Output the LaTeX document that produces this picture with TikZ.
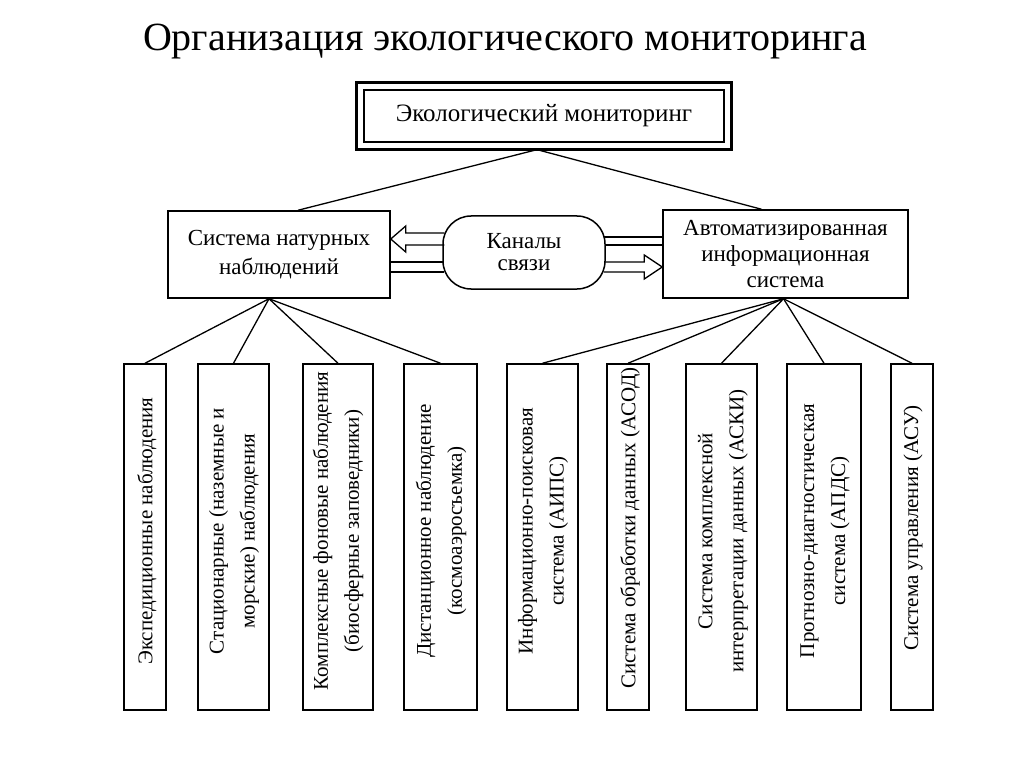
\documentclass[tikz,border=0pt]{standalone}
\usepackage{fontspec}
\setmainfont{Liberation Serif}
\usetikzlibrary{calc}
\begin{document}
\begin{tikzpicture}[x=1pt,y=-1pt,
  box/.style={draw, line width=1.5pt, inner sep=0pt},
  vbox/.style={box, minimum width=#1, minimum height=346pt},
  conn/.style={line width=1.3pt},
  hollow/.style={line width=1.3pt, line join=miter},
  txt/.style={font=\fontsize{23}{29}\selectfont, align=center, inner sep=0pt},
  vtxt/.style={font=\fontsize{21}{31}\selectfont, align=center, inner sep=0pt, rotate=90}]
\useasboundingbox (0,0) rectangle (1024,767);
\fill[white] (0,0) rectangle (1024,767);

\node[font=\fontsize{40}{48}\selectfont, anchor=base, inner sep=0pt] (title) at (505,51) {Организация экологического мониторинга};

% top box
\node[box, line width=1.3pt, minimum width=360pt, minimum height=52pt,
      font=\fontsize{25}{30}\selectfont] (eco) at (544,116) {Экологический мониторинг};
\draw[line width=3pt] ($(eco.north west)+(-7,-7)$) rectangle ($(eco.south east)+(7,7)$);

% middle row
\node[box, txt, minimum width=222pt, minimum height=87pt] (sn) at (279,254.5) {Система натурных\\наблюдений};
\node[box, txt, font=\fontsize{23}{22}\selectfont, rounded corners=28pt, minimum width=162pt, minimum height=73pt] (kan) at (524,252.5) {Каналы\\связи};
\node[box, txt, font=\fontsize{23}{26}\selectfont, minimum width=245pt, minimum height=88pt] (ais) at (785.5,254) {Автоматизированная\\информационная\\система};

% vertical boxes
\node[vbox=42pt] (b1) at (145,537) {};
\node[vbox=71pt] (b2) at (233.5,537) {};
\node[vbox=70pt] (b3) at (338,537) {};
\node[vbox=73pt] (b4) at (440.5,537) {};
\node[vbox=71pt] (b5) at (542.5,537) {};
\node[vbox=42pt] (b6) at (628,537) {};
\node[vbox=71pt] (b7) at (721.5,537) {};
\node[vbox=74pt] (b8) at (824,537) {};
\node[vbox=42pt] (b9) at (912,537) {};

\node[vtxt] (t1) at (147,531) {Экспедиционные наблюдения};
\node[vtxt] (t2) at (234,531) {Стационарные (наземные и\\морские) наблюдения};
\node[vtxt] (t3) at (338,531) {Комплексные фоновые наблюдения\\(биосферные заповедники)};
\node[vtxt] (t4) at (441,531) {Дистанционное наблюдение\\(космоаэросъемка)};
\node[vtxt] (t5) at (543,531) {Информационно-поисковая\\система (АИПС)};
\node[vtxt] (t6) at (630,528) {Система обработки данных (АСОД)};
\node[vtxt] (t7) at (723,531) {Система комплексной\\интерпретации данных (АСКИ)};
\node[vtxt] (t8) at (825,531) {Прогнозно-диагностическая\\система (АПДС)};
\node[vtxt] (t9) at (913,528) {Система управления (АСУ)};

% connectors from top
\coordinate (ecoB) at ($(eco.south)+(-7,7)$);
\draw[conn] (ecoB) -- ($(sn.north)+(19,0)$);
\draw[conn] (ecoB) -- ($(ais.north)+(-24,0)$);

\coordinate (snB) at ($(sn.south)+(-10,0)$);
\foreach \b in {b1,b2,b3,b4} \draw[conn] (snB) -- (\b.north);
\coordinate (aisB) at ($(ais.south)+(-2,0)$);
\foreach \b in {b5,b6,b7,b8,b9} \draw[conn] (aisB) -- (\b.north);

% hollow arrows
\coordinate (ya) at (0,239);
\coordinate (yb) at (0,267);
\coordinate (yc) at (0,241);
\coordinate (la) at (sn.east|-ya);
\coordinate (lk) at (kan.west|-ya);
\draw[hollow] ($(lk)+(2,-6)$) -- ($(la)+(15,-6)$) -- ($(la)+(15,-13)$) -- (la)
   -- ($(la)+(15,13)$) -- ($(la)+(15,6)$) -- ($(lk)+(2,6)$);
\coordinate (lb) at (sn.east|-yb);
\coordinate (lbk) at (kan.west|-yb);
\draw[hollow] ($(lb)+(0,-5)$) -- ($(lbk)+(1,-5)$);
\draw[hollow] ($(lb)+(0,5)$) -- ($(lbk)+(2,5)$);
\coordinate (rc) at (ais.west|-yc);
\coordinate (rck) at (kan.east|-yc);
\draw[hollow] ($(rck)+(-2,-4)$) -- ($(rc)+(0,-4)$);
\draw[hollow] ($(rck)+(-1,4)$) -- ($(rc)+(0,4)$);
\coordinate (rb) at (ais.west|-yb);
\coordinate (rbk) at (kan.east|-yb);
\draw[hollow] ($(rbk)+(-1,-5)$) -- ($(rb)+(-18,-5)$) -- ($(rb)+(-18,-12)$) -- (rb)
   -- ($(rb)+(-18,12)$) -- ($(rb)+(-18,5)$) -- ($(rbk)+(-2,5)$);
\end{tikzpicture}
\end{document}
